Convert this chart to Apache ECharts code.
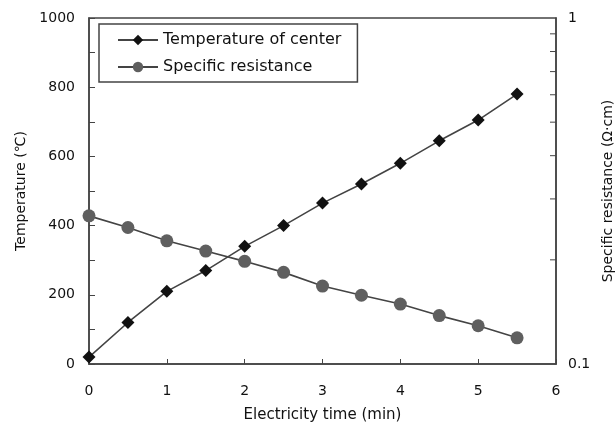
<!DOCTYPE html>
<html>
<head>
<meta charset="utf-8">
<script src="https://cdn.jsdelivr.net/npm/echarts@6/dist/echarts.min.js"></script>
<style>
  html, body { margin: 0; padding: 0; background: #fff; }
  #chart { width: 615px; height: 426px; }
</style>
</head>
<body>
<div id="chart"></div>
<script>
// electricity time (min)
const timeMin = [0, 0.5, 1, 1.5, 2, 2.5, 3, 3.5, 4, 4.5, 5, 5.5]
// temperature of center (℃)
const temperature = [20, 120, 210, 270, 340, 400, 465, 520, 580, 645, 705, 780]
// specific resistance (Ω·cm)
const resistance = [0.268, 0.248, 0.227, 0.212, 0.198, 0.184, 0.168, 0.158, 0.149, 0.138, 0.129, 0.119]
// minor ticks on the log axis
const resMinorTicks = [0.2, 0.3, 0.4, 0.5, 0.6, 0.7, 0.8, 0.9]

const lineColor = '#444'
const textColor = '#111'
const font = 'DejaVu Sans'

const chart = echarts.init(document.getElementById('chart'))

chart.setOption({
  animation: false,
  textStyle: { fontFamily: font, color: textColor },
  grid: {
    left: 89,
    right: 59,
    top: 18,
    bottom: 62,
    outerBoundsMode: 'none',
    containLabel: false,
    show: true,
    borderColor: lineColor,
    borderWidth: 1.5
  },
  legend: {
    left: 99,
    top: 24,
    orient: 'vertical',
    itemWidth: 40,
    itemHeight: 13,
    itemGap: 11,
    padding: [8, 16, 7, 18],
    borderColor: lineColor,
    borderWidth: 1.5,
    textStyle: { fontFamily: font, fontSize: 16, color: textColor },
    data: ['Temperature of center', 'Specific resistance']
  },
  xAxis: {
    type: 'value',
    min: 0,
    max: 6,
    interval: 1,
    name: 'Electricity time (min)',
    nameLocation: 'middle',
    nameGap: 44,
    nameTextStyle: { fontFamily: font, fontSize: 15, color: textColor },
    axisLine: { lineStyle: { color: lineColor, width: 1.5 } },
    axisTick: { inside: true, length: 5, lineStyle: { color: lineColor } },
    axisLabel: { margin: 20, fontFamily: font, fontSize: 14, color: textColor },
    splitLine: { show: false }
  },
  yAxis: [{
    type: 'value',
    min: 0,
    max: 1000,
    interval: 200,
    name: 'Temperature (℃)',
    nameLocation: 'middle',
    nameGap: 61,
    nameTextStyle: { fontFamily: font, fontSize: 14, color: textColor },
    axisLine: { show: true, lineStyle: { color: lineColor, width: 1.5 } },
    axisTick: { show: true, inside: true, length: 6, lineStyle: { color: lineColor } },
    minorTick: { show: true, splitNumber: 2, length: 6, lineStyle: { color: lineColor } },
    axisLabel: { margin: 14, fontFamily: font, fontSize: 14, color: textColor, formatter: function (v) { return String(v) } },
    splitLine: { show: false }
  }, {
    type: 'log',
    logBase: 10,
    min: 0.1,
    max: 1,
    position: 'right',
    name: 'Specific resistance (Ω·cm)',
    nameLocation: 'middle',
    nameGap: 41,
    nameTextStyle: { fontFamily: font, fontSize: 14, color: textColor },
    axisLine: { show: true, lineStyle: { color: lineColor, width: 1.5 } },
    axisTick: { show: false },
    axisLabel: { margin: 12, fontFamily: font, fontSize: 14, color: textColor, formatter: function (v) { return String(v) } },
    splitLine: { show: false }
  }],
  series: [{
    name: 'Temperature of center',
    type: 'line',
    yAxisIndex: 0,
    data: timeMin.map((t, i) => [t, temperature[i]]),
    symbol: 'diamond',
    symbolSize: 13,
    lineStyle: { color: lineColor, width: 1.6 },
    itemStyle: { color: '#111' }
  }, {
    name: 'Specific resistance',
    type: 'line',
    yAxisIndex: 1,
    data: timeMin.map((t, i) => [t, resistance[i]]),
    symbol: 'circle',
    symbolSize: 13,
    lineStyle: { color: lineColor, width: 1.6 },
    itemStyle: { color: '#5f5f5f' }
  }]
})

// minor ticks for the log axis, placed by the axis scale
const xRight = chart.convertToPixel({ xAxisIndex: 0 }, 6)
chart.setOption({
  graphic: resMinorTicks.map(function (v) {
    const y = chart.convertToPixel({ yAxisIndex: 1 }, v)
    return {
      type: 'line',
      shape: { x1: xRight - 6, y1: y, x2: xRight, y2: y },
      style: { stroke: lineColor, lineWidth: 1 },
      silent: true
    }
  })
})
</script>
</body>
</html>
